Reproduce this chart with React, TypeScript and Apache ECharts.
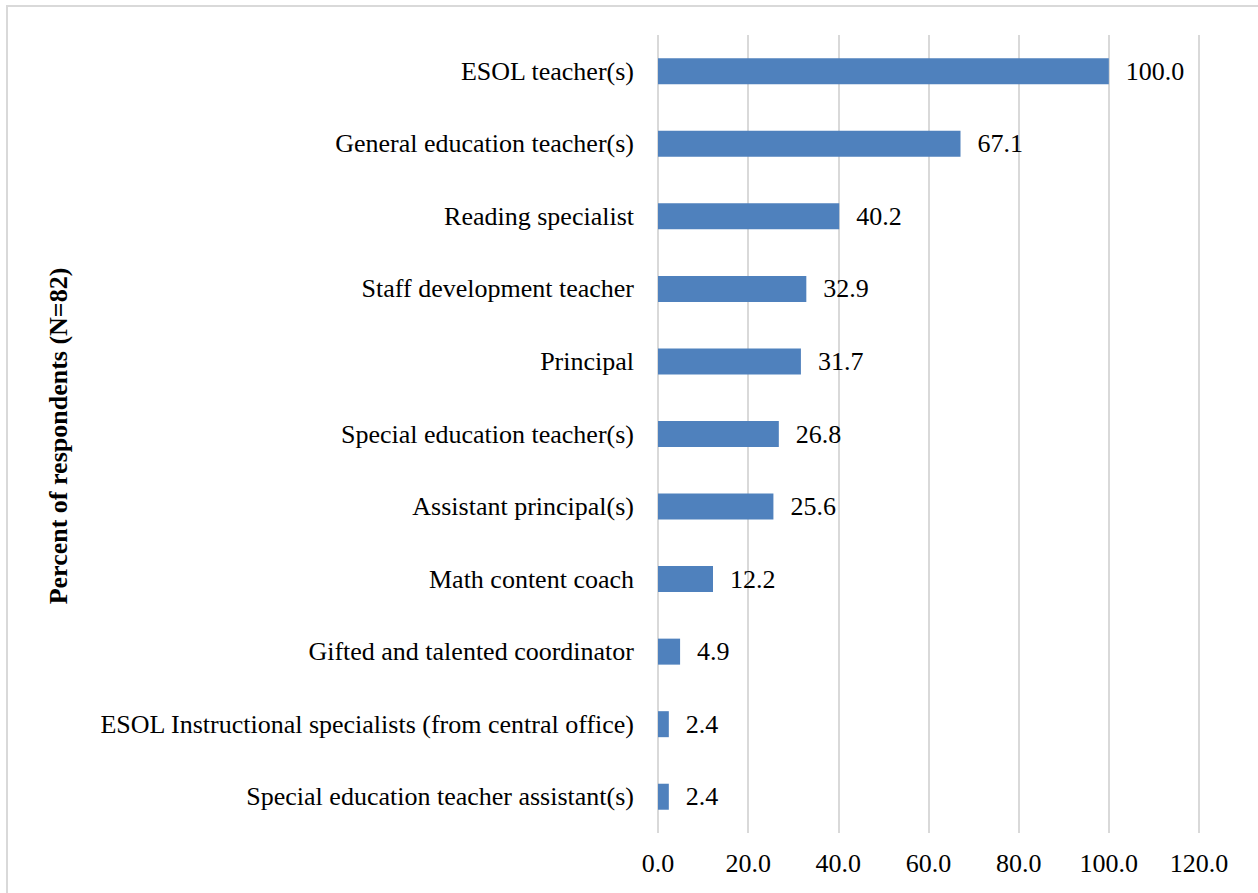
import React, { useEffect, useRef } from "react";
import * as echarts from "echarts";

const categories = [
  "ESOL teacher(s)",
  "General education teacher(s)",
  "Reading specialist",
  "Staff development teacher",
  "Principal",
  "Special education teacher(s)",
  "Assistant principal(s)",
  "Math content coach",
  "Gifted and talented coordinator",
  "ESOL Instructional specialists (from central office)",
  "Special education teacher assistant(s)",
];
const values = [100.0, 67.1, 40.2, 32.9, 31.7, 26.8, 25.6, 12.2, 4.9, 2.4, 2.4];
const axisTitle = "Percent of respondents (N=82)";

const FONT = "Liberation Serif";
const FS = 26;

export default function App() {
  const ref = useRef<HTMLDivElement>(null);
  useEffect(() => {
    document.body.style.margin = "0";
    const chart = echarts.init(ref.current!, null, { renderer: "svg" });
    chart.setOption({
      animation: false,
      backgroundColor: "#ffffff",
      textStyle: { fontFamily: FONT },
      graphic: [
        {
          type: "rect",
          shape: { x: 7, y: 6, width: 1300, height: 950 },
          style: { fill: "none", stroke: "#d9d9d9", lineWidth: 2 },
          silent: true,
        },
        {
          type: "text",
          x: 58,
          y: 436,
          rotation: Math.PI / 2,
          style: {
            text: axisTitle,
            font: `bold ${FS}px ${FONT}`,
            fill: "#000000",
            align: "center",
            verticalAlign: "middle",
          },
        },
      ],
      grid: { left: 658, right: 59, top: 35, bottom: 60, containLabel: false },
      xAxis: {
        type: "value",
        min: 0,
        max: 120,
        interval: 20,
        axisLine: { show: false },
        axisTick: { show: false },
        axisLabel: {
          formatter: (v: number) => v.toFixed(1),
          fontFamily: FONT,
          fontSize: FS,
          color: "#000000",
          margin: 17,
        },
        splitLine: { show: true, lineStyle: { color: "#d9d9d9", width: 2 } },
      },
      yAxis: {
        type: "category",
        data: categories,
        inverse: true,
        axisLine: { show: false },
        axisTick: { show: false },
        axisLabel: {
          fontFamily: FONT,
          fontSize: FS,
          color: "#000000",
          margin: 24,
        },
      },
      series: [
        {
          type: "bar",
          data: values,
          barWidth: 26,
          itemStyle: { color: "#4f81bd" },
          label: {
            show: true,
            position: "right",
            distance: 17,
            formatter: (p: any) => Number(p.value).toFixed(1),
            fontFamily: FONT,
            fontSize: FS,
            color: "#000000",
          },
        },
      ],
    });
    return () => chart.dispose();
  }, []);
  return <div ref={ref} style={{ width: 1258, height: 893 }} />;
}
